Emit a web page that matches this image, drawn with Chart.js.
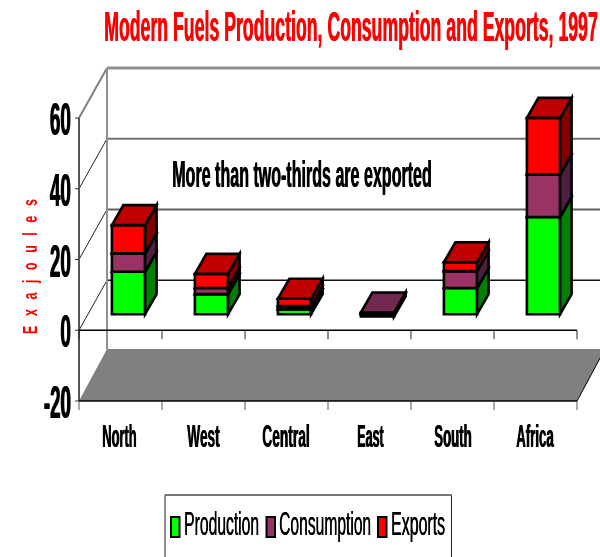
<!DOCTYPE html>
<html>
<head>
<meta charset="utf-8">
<title>Modern Fuels Production, Consumption and Exports, 1997</title>
<style>html,body{margin:0;padding:0;background:#fff;overflow:hidden}canvas{display:block}</style>
<script src="https://cdn.jsdelivr.net/npm/chart.js@4/dist/chart.umd.min.js"></script>
</head>
<body>
<canvas id="chart" width="600" height="557"></canvas>
<script>
// Regional fuel figures, exajoules
const categories = ["North", "West", "Central", "East", "South", "Africa"];
const production = [12, 5.7, 1.4, 0.1, 7.4, 27.5];
const consumption = [5.2, 1.7, 0.9, 0.4, 4.8, 12];
const exportsOut = [8, 4, 2.1, -0.6, 2.5, 16];
const yTicks = [-20, 0, 20, 40, 60];
const chartTitle = "Modern Fuels Production, Consumption and Exports, 1997";
const axisTitle = "Exajoules";
const note = "More than two-thirds are exported";
const seriesNames = ["Production", "Consumption", "Exports"];

// Series colours: front, side and top faces of each block
const faces = [
  { front: "#00ff00", side: "#008000", top: "#00c000" },
  { front: "#993366", side: "#4d1f3f", top: "#73294f" },
  { front: "#ff0000", side: "#800000", top: "#c00000" }
];

// Room depth and the depth of a block, in pixels
const WALL_DX = 28, WALL_DY = 50;
const BAR_DX = 11.5, BAR_DY = 20;
const BAR_SHIFT_X = 8, BAR_SHIFT_Y = 16;

// Draws a line of text squeezed horizontally to an exact width;
// a second pass slightly to the right thickens the stems
function squeezed(ctx, text, x, width, baseline, size, weight, color, thicken) {
  ctx.save();
  ctx.font = weight + " " + size + "px 'Liberation Sans'";
  ctx.fillStyle = color;
  ctx.textAlign = "left";
  ctx.textBaseline = "alphabetic";
  const k = width / ctx.measureText(text).width;
  ctx.translate(x, baseline);
  ctx.scale(k, 1);
  ctx.fillText(text, 0, 0);
  if (thicken) ctx.fillText(text, thicken / k, 0);
  ctx.restore();
}

function line(ctx, x1, y1, x2, y2, color, w) {
  ctx.strokeStyle = color;
  ctx.lineWidth = w;
  ctx.beginPath();
  ctx.moveTo(x1, y1);
  ctx.lineTo(x2, y2);
  ctx.stroke();
}

function poly(ctx, pts, fill) {
  ctx.strokeStyle = "#000";
  ctx.lineWidth = 2.6;
  ctx.lineJoin = "miter";
  ctx.beginPath();
  pts.forEach((p, i) => i ? ctx.lineTo(p[0], p[1]) : ctx.moveTo(p[0], p[1]));
  ctx.closePath();
  if (fill) {
    ctx.fillStyle = fill;
    ctx.fill();
  }
  ctx.stroke();
}

// Back walls, floor, axis lines and axis text
const room = {
  id: "room",
  beforeDatasetsDraw(chart) {
    const { ctx, scales: { x, y } } = chart;
    const l = x.left, r = x.right;
    const floorY = y.getPixelForValue(-20);
    const zeroY = y.getPixelForValue(0);
    const W = chart.width;

    // Floor
    ctx.fillStyle = "#808080";
    ctx.beginPath();
    ctx.moveTo(l, floorY);
    ctx.lineTo(l + WALL_DX, floorY - WALL_DY - 2);
    ctx.lineTo(r + WALL_DX, floorY - WALL_DY - 2);
    ctx.lineTo(r, floorY);
    ctx.closePath();
    ctx.fill();
    line(ctx, r, floorY, r + WALL_DX, floorY - WALL_DY - 2, "#000", 1);

    // Wall gridlines and their runs along the side wall
    const gridColor = { 60: "#909090", 40: "#707070", 20: "#606060", 0: "#111111" };
    const gridWidth = { 60: 3, 40: 2, 20: 2, 0: 1.5 };
    yTicks.filter(v => v >= 0).forEach(v => {
      const py = y.getPixelForValue(v);
      const by = py - WALL_DY;
      line(ctx, l + WALL_DX, by, W, by, gridColor[v], gridWidth[v]);
      line(ctx, l, py, l + WALL_DX, by, v === 60 ? "#808080" : "#222", v === 60 ? 2 : 1);
    });
    line(ctx, l + WALL_DX, y.getPixelForValue(60) - WALL_DY, l + WALL_DX, floorY - WALL_DY - 2, "#909090", 2);

    // Vertical axis with its ticks
    line(ctx, l, y.getPixelForValue(60), l, floorY, "#555", 2);
    y.ticks.forEach(t => line(ctx, l - 4, y.getPixelForValue(t.value), l, y.getPixelForValue(t.value), "#333", 1));

    // Category lines at zero and along the floor edge
    line(ctx, l, zeroY, r, zeroY, "#000", 1.5);
    line(ctx, l, floorY, r, floorY, "#000", 1.5);
    const step = (r - l) / categories.length;
    for (let i = 0; i <= categories.length; i++) {
      const px = l + i * step;
      line(ctx, px, zeroY, px, zeroY + 9, "#222", 1);
      line(ctx, px, floorY, px, floorY + 9, "#555", 1);
    }

    // Tick labels
    y.ticks.forEach(t => {
      const s = String(t.value);
      const w = t.value === 0 ? 10.5 : t.value < 0 ? 27 : 21;
      squeezed(ctx, s, 70.5 - w, w, y.getPixelForValue(t.value) + 17, 46, "bold", "#000", 0.8);
    });
    const labelWidths = [35, 33, 48, 27, 38, 38];
    const labelShift = [-1, 0, -0.5, 1, 0.5, -0.5];
    categories.forEach((c, i) => {
      const cx = x.getPixelForValue(i) + labelShift[i];
      squeezed(ctx, c, cx - labelWidths[i] / 2, labelWidths[i] - 0.6, 447, 32, "bold", "#000", 0.6);
    });

    // Title, annotation
    squeezed(ctx, chartTitle, 104, 493.5, 41, 42, "bold", "#ff0000", 0.5);
    squeezed(ctx, note, 172, 259.5, 187, 37, "bold", "#000", 0.5);

    // Rotated axis title, letters spread out
    ctx.save();
    ctx.translate(37, 334);
    ctx.rotate(-Math.PI / 2);
    ctx.scale(0.62, 1);
    ctx.font = "bold 20px 'Liberation Sans'";
    ctx.letterSpacing = "15.5px";
    ctx.fillStyle = "#ff0000";
    ctx.fillText(axisTitle, 0, 0);
    ctx.restore();

    // Legend
    ctx.strokeStyle = "#222";
    ctx.lineWidth = 1;
    ctx.beginPath();
    ctx.moveTo(165, 557); ctx.lineTo(165, 495); ctx.lineTo(451.5, 495); ctx.lineTo(451.5, 557);
    ctx.stroke();
    line(ctx, 165, 495, 451.5, 495, "#777", 2);
    const items = [
      { sx: 171, tx: 184, tw: 75 },
      { sx: 266.5, tx: 279, tw: 92 },
      { sx: 378, tx: 391, tw: 54 }
    ];
    chart.data.datasets.forEach((d, i) => {
      ctx.fillStyle = d.backgroundColor;
      ctx.strokeStyle = "#000";
      ctx.lineWidth = 2;
      ctx.fillRect(items[i].sx, 517, 8.5, 20);
      ctx.strokeRect(items[i].sx, 517, 8.5, 20);
      squeezed(ctx, d.label, items[i].tx, items[i].tw, 535, 34, "normal", "#000", 0.3);
    });
  },
  // Stacks are painted bottom to top, each block with its depth faces
  beforeDatasetDraw() {
    return false;
  },
  afterDatasetsDraw(chart) {
    const ctx = chart.ctx;
    chart.data.datasets.forEach((d, i) => {
      const meta = chart.getDatasetMeta(i);
      ctx.save();
      ctx.translate(BAR_SHIFT_X, -BAR_SHIFT_Y);
      meta.controller.draw();
      meta.data.forEach((el, n) => {
        const p = el.getProps(["x", "y", "base", "width"], true);
        const a = p.x - p.width / 2, b = p.x + p.width / 2;
        const t = Math.min(p.y, p.base), u = Math.max(p.y, p.base);
        poly(ctx, [[a, t], [b, t], [b, u], [a, u]], null);
        poly(ctx, [[b, t], [b + BAR_DX, t - BAR_DY], [b + BAR_DX, u - BAR_DY], [b, u]], faces[i].side);
        if (d.data[n] > 0) {
          poly(ctx, [[a, t], [a + BAR_DX, t - BAR_DY], [b + BAR_DX, t - BAR_DY], [b, t]], faces[i].top);
        }
      });
      ctx.restore();
    });
  }
};

const seriesValues = [production, consumption, exportsOut];

new Chart(document.getElementById("chart"), {
  type: "bar",
  data: {
    labels: categories,
    datasets: seriesValues.map((values, i) => ({
      label: seriesNames[i],
      data: values,
      backgroundColor: faces[i].front,
      borderWidth: 0,
      barPercentage: 0.4,
      categoryPercentage: 1
    }))
  },
  plugins: [room],
  options: {
    responsive: false,
    animation: false,
    events: [],
    layout: { padding: { left: 79, right: 23, top: 118, bottom: 156 } },
    plugins: { legend: { display: false }, title: { display: false }, tooltip: { enabled: false } },
    scales: {
      x: {
        stacked: true,
        ticks: { display: false },
        grid: { display: false, drawTicks: false },
        border: { display: false }
      },
      y: {
        stacked: true,
        min: -20,
        max: 60,
        ticks: { display: false, stepSize: 20 },
        grid: { display: false, drawTicks: false },
        border: { display: false }
      }
    }
  }
});
</script>
</body>
</html>
